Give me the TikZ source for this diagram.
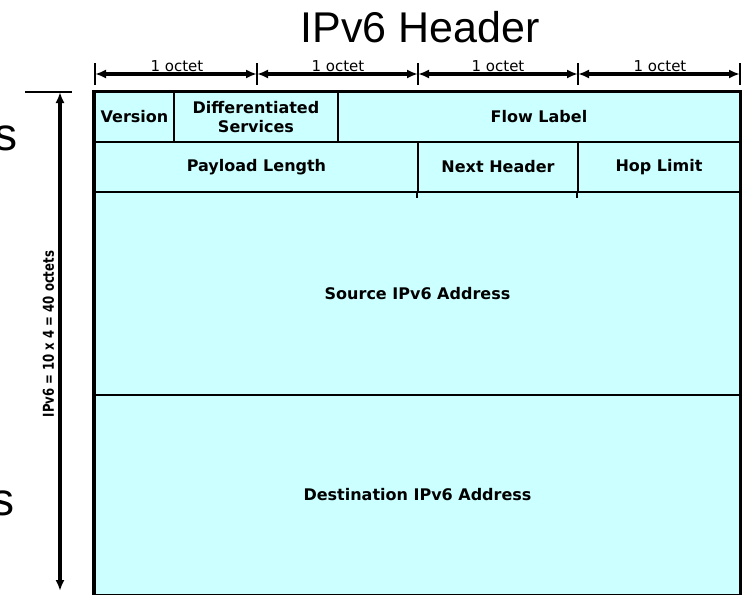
\documentclass[tikz,border=0pt]{standalone}
\usepackage{fontspec}
\setmainfont{Liberation Sans}
\newfontfamily\dejavu{DejaVu Sans}
\usetikzlibrary{arrows.meta}
\definecolor{cellfill}{HTML}{CCFFFF}
\begin{document}
\begin{tikzpicture}[x=1pt,y=-1pt,
  cell/.style={draw, line width=2pt, fill=cellfill, inner sep=0pt, align=center,
    font=\dejavu\bfseries\fontsize{16}{19}\selectfont},
  ticks/.style={line width=1.8pt},
  dimline/.style={line width=3.6pt, {Latex[length=11pt,width=9pt]}-{Latex[length=11pt,width=9pt]}},
  octet/.style={font=\dejavu\fontsize{15}{15}\selectfont, inner sep=0pt, anchor=base},
  frame/.style={line width=#1},
]
\useasboundingbox (0,0) rectangle (743,594);
\clip (0,0) rectangle (743,594);

% title
\node[font=\fontsize{43}{43}\selectfont, anchor=base, inner sep=0pt] (title) at (420,42) {IPv6 Header};

% cut-off letters at the left margin
\node[font=\fontsize{46}{46}\selectfont, anchor=base west, inner sep=0pt] (s1) at (-6,150) {s};
\node[font=\fontsize{46}{46}\selectfont, anchor=base west, inner sep=0pt] (s2) at (-9,515) {s};

% header fields
\node[cell, minimum width=79pt,  minimum height=50pt]  (ver) at (134.5,117) {Version};
\node[cell, minimum width=164pt, minimum height=50pt]  (ds)  at (256,117)   {Differentiated\\Services};
\node[cell, minimum width=402pt, minimum height=50pt]  (fl)  at (539,117)   {Flow Label};
\node[cell, minimum width=323pt, minimum height=50pt]  (pl)  at (256.5,167) {Payload Length};
\node[cell, minimum width=160pt, minimum height=50pt]  (nh)  at (498,167)   {Next Header};
\node[cell, minimum width=162pt, minimum height=50pt]  (hl)  at (659,167)   {Hop Limit};
\node[cell, minimum width=645pt, minimum height=203pt] (src) at (417.5,293.5) {Source IPv6 Address};
\node[cell, minimum width=645pt, minimum height=200pt] (dst) at (417.5,495) {Destination IPv6 Address};

% small stubs below the second row dividers
\draw[line width=2pt] (nh.south west) -- ++(0,5);
\draw[line width=2pt] (hl.south west) -- ++(0,5);

% outer frame
\draw[frame=4.5pt] (ver.north west) -- ([yshift=-20pt]dst.south west);
\draw[frame=3pt] ([xshift=-2pt]ver.north west) -- ([xshift=1pt]fl.north east);
\draw[frame=2.5pt] (fl.north east) -- ([yshift=-20pt]dst.south east);

% octet dimension line
\coordinate (k0) at (95,74);
\coordinate (k1) at (257,74);
\coordinate (k2) at (418,74);
\coordinate (k3) at (578,74);
\coordinate (k4) at (740,74);
\foreach \k in {k0,k1,k2,k3,k4}
  \draw[ticks] ([yshift=11pt]\k) -- ([yshift=-11pt]\k);
\draw[dimline] (k0) -- (k1);
\draw[dimline] (k1) -- (k2);
\draw[dimline] (k2) -- (k3);
\draw[dimline] (k3) -- (k4);
\node[octet] (o1) at (177,71) {1 octet};
\node[octet] (o2) at (338,71) {1 octet};
\node[octet] (o3) at (498,71) {1 octet};
\node[octet] (o4) at (660,71) {1 octet};

% total length
\coordinate (vt) at (60,92);
\coordinate (vb) at (60,591);
\coordinate (ha) at (25,92);
\coordinate (hb) at (72,92);
\draw[line width=2pt] (ha) -- (hb);
\draw[dimline] (vt) -- (vb);
\node[rotate=90, inner sep=0pt] (total) at (48.5,334)
  {\scalebox{0.78}[1]{\dejavu\bfseries\fontsize{15}{15}\selectfont IPv6 = 10 x 4 = 40 octets}};
\end{tikzpicture}
\end{document}
